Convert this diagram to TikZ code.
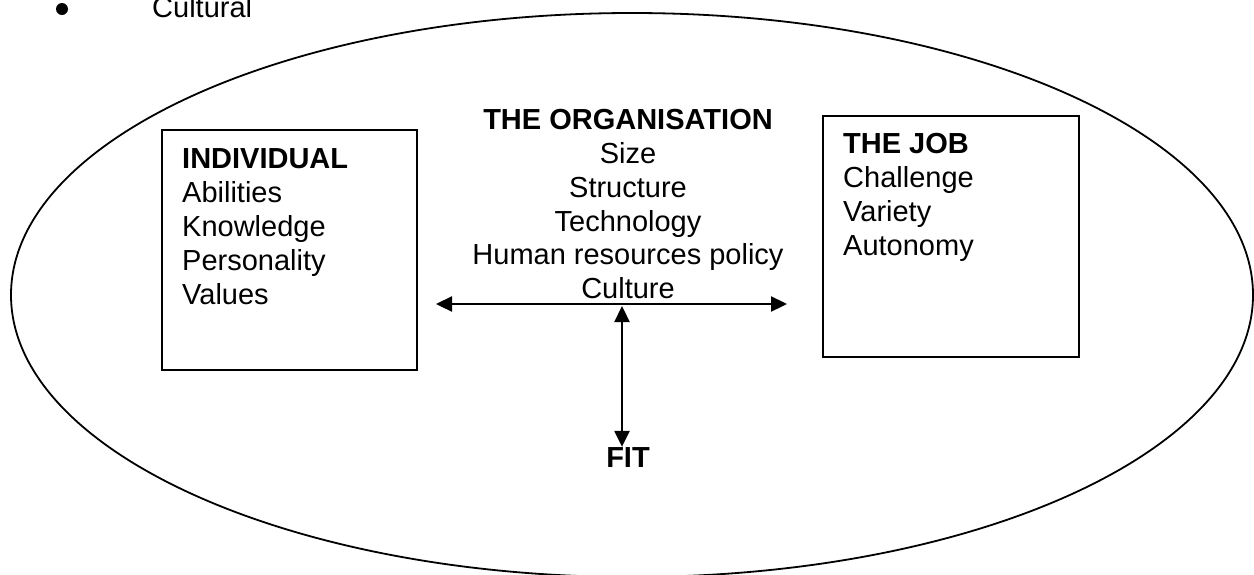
\documentclass[tikz,border=0pt]{standalone}
\usepackage{fontspec}
\setmainfont{Liberation Sans}
\usetikzlibrary{arrows.meta}
\begin{document}
\begin{tikzpicture}[x=1pt,y=-1pt,
  txt/.style={anchor=base west, inner sep=0pt, font=\fontsize{29}{34}\selectfont},
  ctxt/.style={anchor=base, inner sep=0pt, font=\fontsize{29}{34}\selectfont},
  head/.style={font=\fontsize{29}{34}\selectfont\bfseries},
  frame/.style={draw, line width=1.8pt, rectangle, inner sep=0pt},
  link/.style={line width=2.3pt, {Triangle[length=16pt,width=15pt]}-{Triangle[length=16pt,width=15pt]}}]
\useasboundingbox (0,0) rectangle (1254,574);

% bullet line above the figure
\node[circle, fill, inner sep=0pt, minimum size=12pt] (bul) at (62,9) {};
\node[txt] (cult) at (152,17) {Cultural};

% surrounding ellipse
\draw[line width=1.8pt] (632,295) ellipse [x radius=621pt, y radius=282pt];

% the two boxes
\node[frame, minimum width=255pt, minimum height=240pt] (indiv) at (289.5,250) {};
\node[frame, minimum width=256pt, minimum height=241pt] (job) at (951,236.5) {};

% individual
\node[txt, head] (i0) at (182,168) {INDIVIDUAL};
\node[txt] (i1) at (182,202) {Abilities};
\node[txt] (i2) at (182,236) {Knowledge};
\node[txt] (i3) at (182,270) {Personality};
\node[txt] (i4) at (182,304) {Values};

% the job
\node[txt, head] (j0) at (843,153) {THE JOB};
\node[txt] (j1) at (843,187) {Challenge};
\node[txt] (j2) at (843,221) {Variety};
\node[txt] (j3) at (843,255) {Autonomy};

% the organisation
\node[ctxt, head] (o0) at (628,129) {THE ORGANISATION};
\node[ctxt] (o1) at (628,163) {Size};
\node[ctxt] (o2) at (628,197) {Structure};
\node[ctxt] (o3) at (628,231) {Technology};
\node[ctxt] (o4) at (628,264) {Human resources policy};
\node[ctxt] (o5) at (628,298) {Culture};

% fit
\node[ctxt, head] (fit) at (628,467) {FIT};

% arrows
\coordinate (hl) at (436,304);
\coordinate (hr) at (787,304);
\coordinate (vtop) at (622,306);
\draw[link] (hl) -- (hr);
\draw[link] (vtop) -- (vtop |- fit.north);
\end{tikzpicture}
\end{document}
